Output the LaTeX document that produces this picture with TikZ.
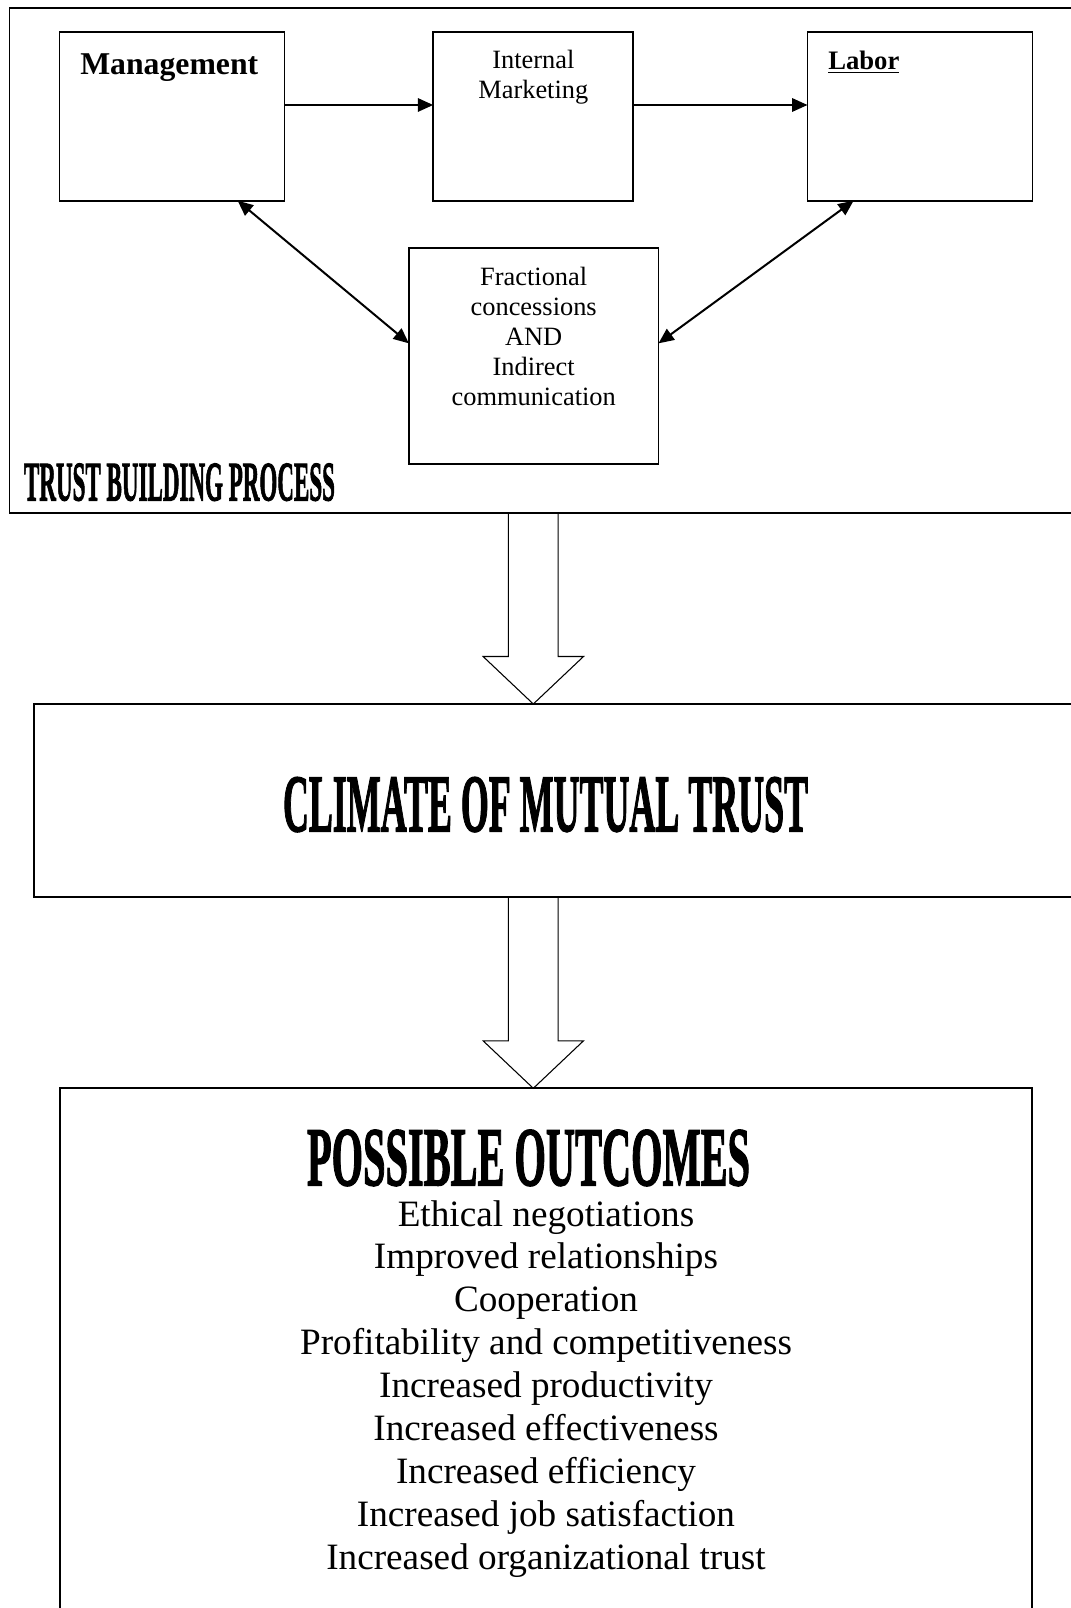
\documentclass[tikz,border=0pt]{standalone}
\usepackage{fontspec}
\usepackage{graphicx}
\setmainfont{Liberation Serif}
\newfontfamily\heavyfont{Liberation Serif Bold}[FakeBold=2]
\usetikzlibrary{arrows.meta,fit,calc}
\begin{document}
\begin{tikzpicture}[x=0.75pt,y=-0.75pt,
  box/.style={draw,line width=1.3pt,inner sep=0pt,outer sep=0pt},
  conn/.style={line width=1.5pt,-{Triangle[length=11.5pt,width=10pt]}},
  biconn/.style={line width=1.5pt,{Triangle[length=11.5pt,width=10pt]}-{Triangle[length=11.5pt,width=10pt]}},
  blockarr/.style={draw,line width=0.8pt,line join=miter},
  smalltxt/.style={font=\fontsize{19.8pt}{23pt}\selectfont,inner sep=0pt,anchor=base},
  listtxt/.style={font=\fontsize{27.9pt}{32pt}\selectfont,inner sep=0pt,anchor=base},
  headtxt/.style={inner sep=0pt,outer sep=0pt,anchor=south west}]
\useasboundingbox (0,0) rectangle (1070,1608);
\fill[white] (0,0) rectangle (1070,1608);

% boxes
\node[box,fit={(9.6,8.3)(1090,512.7)}] (outer) {};
\node[box,fit={(59.6,32.3)(284.4,200.7)}] (mgmt) {};
\node[box,fit={(433.2,32.3)(633.3,200.7)}] (im) {};
\node[box,fit={(807.5,32.3)(1032.4,200.7)}] (labor) {};
\node[box,fit={(408.9,248.3)(658.5,464.3)}] (frac) {};
\node[box,fit={(34.1,704)(1090,896.7)}] (clim) {};
\node[box,fit={(60,1088.3)(1032,1630)}] (outc) {};

% texts
\node[anchor=base west,inner sep=0pt,font=\fontsize{23.8pt}{26pt}\selectfont\bfseries] (mgmtT) at (80,75) {Management};
\node[smalltxt] (imT1) at (533.3,69) {Internal};
\node[smalltxt] (imT2) at (533.3,98.5) {Marketing};
\node[anchor=base west,inner sep=0pt,font=\fontsize{20pt}{22pt}\selectfont\bfseries] (labT) at (828,70) {\underline{Labor}};
\foreach \t [count=\i] in {Fractional,concessions,AND,Indirect,communication}
  \node[smalltxt] (fr\i) at (533.7,{285.5+30.1*(\i-1)}) {\t};

\node[headtxt] (tbp) at (24,501) {\resizebox{233.25pt}{27.75pt}{\heavyfont TRUST BUILDING PROCESS}};
\node[headtxt] (climT) at (283,832) {\resizebox{393.75pt}{40.5pt}{\heavyfont CLIMATE OF MUTUAL TRUST}};
\node[headtxt] (posT) at (307,1186) {\resizebox{332.25pt}{41.5pt}{\heavyfont POSSIBLE OUTCOMES}};

\foreach \t [count=\i] in {Ethical negotiations,Improved relationships,Cooperation,Profitability and competitiveness,Increased productivity,Increased effectiveness,Increased efficiency,Increased job satisfaction,Increased organizational trust}
  \node[listtxt] (o\i) at (546,{1226+42.9*(\i-1)}) {\t};

% connectors
\coordinate (ay) at (0,105);
\draw[conn] (mgmt.east |- ay) -- (im.west |- ay);
\draw[conn] (im.east |- ay) -- (labor.west |- ay);
\draw[biconn] ($(mgmt.south west)!0.792!(mgmt.south east)$) -- ($(frac.north west)!0.44!(frac.south west)$);
\draw[biconn] ($(labor.south west)!0.205!(labor.south east)$) -- ($(frac.north east)!0.44!(frac.south east)$);

% block arrows
\coordinate (ax) at (533.3,0);
\coordinate (b1s) at (outer.south -| ax);
\coordinate (b1e) at (clim.north -| ax);
\coordinate (b2s) at (clim.south -| ax);
\coordinate (b2e) at (outc.north -| ax);
\draw[blockarr] ($(b1s)+(-24.9,0)$) -- ($(b1e)+(-24.9,-47.5)$) -- ($(b1e)+(-50.2,-47.5)$) -- (b1e) -- ($(b1e)+(50.2,-47.5)$) -- ($(b1e)+(24.9,-47.5)$) -- ($(b1s)+(24.9,0)$);
\draw[blockarr] ($(b2s)+(-24.9,0)$) -- ($(b2e)+(-24.9,-47.5)$) -- ($(b2e)+(-50.2,-47.5)$) -- (b2e) -- ($(b2e)+(50.2,-47.5)$) -- ($(b2e)+(24.9,-47.5)$) -- ($(b2s)+(24.9,0)$);
\end{tikzpicture}
\end{document}
